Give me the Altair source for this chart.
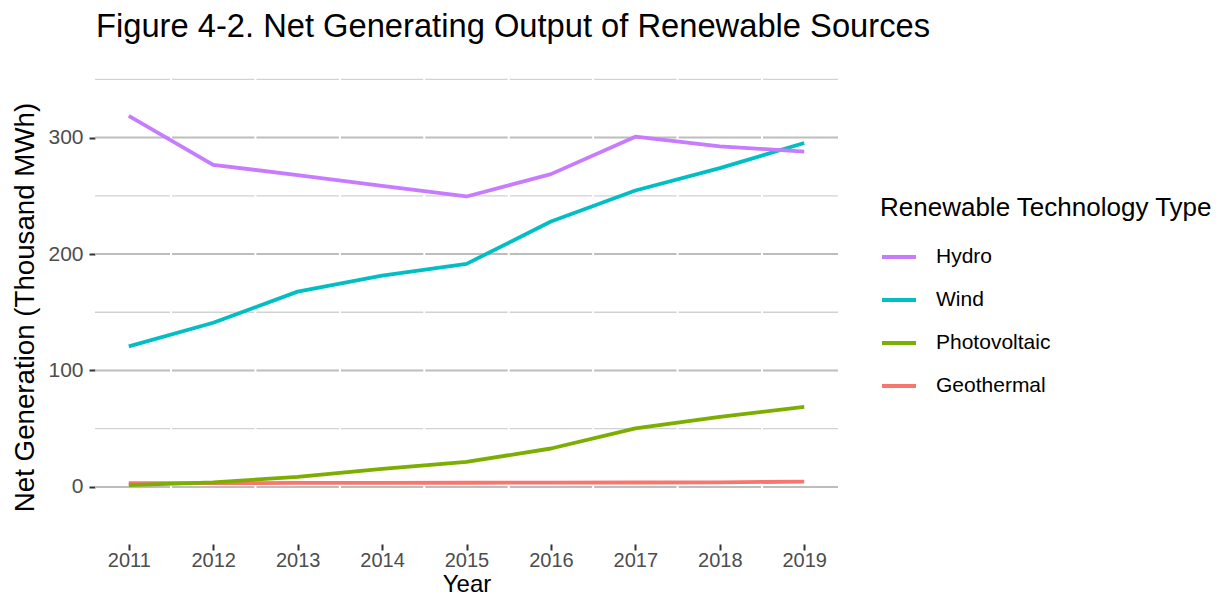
import altair as alt
import pandas as pd

# ---- data ----
years = [2011, 2012, 2013, 2014, 2015, 2016, 2017, 2018, 2019]
hydro = [318.7, 276.6, 267.8, 258.5, 249.4, 268.6, 300.7, 292.4, 288.0]
wind = [120.7, 141.0, 167.7, 181.5, 191.5, 227.9, 254.5, 273.8, 295.3]
photovoltaic = [1.5, 4.0, 8.6, 15.5, 21.5, 33.0, 50.2, 60.2, 68.8]
geothermal = [3.2, 3.3, 3.4, 3.5, 3.6, 3.7, 3.8, 4.0, 4.5]

legend_order = ["Hydro", "Wind", "Photovoltaic", "Geothermal"]
legend_colors = ["#C77CFF", "#00BFC4", "#7CAE00", "#F8766D"]
draw_order = ["Geothermal", "Photovoltaic", "Wind", "Hydro"]

major_y = [0, 100, 200, 300]
minor_y = [50, 150, 250, 350]
half_years = [2011.5, 2012.5, 2013.5, 2014.5, 2015.5, 2016.5, 2017.5, 2018.5]

FONT = "Liberation Sans"

series = {"Hydro": hydro, "Wind": wind, "Photovoltaic": photovoltaic, "Geothermal": geothermal}
rows = []
for k, name in enumerate(draw_order):
    for yr, v in zip(years, series[name]):
        rows.append({"Year": yr, "Value": v, "Type": name, "ord": k})
df = pd.DataFrame(rows)

xscale = alt.Scale(domain=[2010.6, 2019.4], nice=False, zero=False)
yscale = alt.Scale(domain=[-49, 358], nice=False, zero=False)

x_axis = alt.Axis(
    values=years,
    format="d",
    grid=False,
    domain=False,
    tickColor="#333333",
    tickSize=6,
    tickWidth=2,
    labelFont=FONT,
    labelFontSize=20,
    labelColor="#4D4D4D",
    labelPadding=0,
    titleFont=FONT,
    titleFontSize=24,
    titleFontWeight="normal",
    titleColor="black",
    titlePadding=2,
)
y_axis = alt.Axis(
    values=major_y,
    grid=False,
    domain=False,
    tickColor="#333333",
    tickSize=6,
    tickWidth=2,
    labelFont=FONT,
    labelFontSize=21,
    labelColor="#4D4D4D",
    labelPadding=6,
    titleFont=FONT,
    titleFontSize=27.7,
    titleFontWeight="normal",
    titleColor="black",
    titlePadding=8,
)
X_TITLE = "Year"
Y_TITLE = "Net Generation (Thousand MWh)"

major_df = pd.DataFrame({"y": major_y})
minor_df = pd.DataFrame({"y": minor_y})
vgap_df = pd.DataFrame({"x": half_years})

major_grid = alt.Chart(major_df).mark_rule(color="#BDBDBD", strokeWidth=2).encode(
    y=alt.Y("y:Q", scale=yscale, title=Y_TITLE, axis=y_axis)
)
minor_grid = alt.Chart(minor_df).mark_rule(color="#D2D2D2", strokeWidth=1.3).encode(
    y=alt.Y("y:Q", scale=yscale, title=Y_TITLE, axis=y_axis)
)
vgaps = alt.Chart(vgap_df).mark_rule(color="white", strokeWidth=2).encode(
    x=alt.X("x:Q", scale=xscale, title=X_TITLE, axis=x_axis)
)

lines = alt.Chart(df).mark_line(strokeWidth=3.8, strokeCap="butt", strokeJoin="round").encode(
    x=alt.X("Year:Q", scale=xscale, title=X_TITLE, axis=x_axis),
    y=alt.Y("Value:Q", scale=yscale, title=Y_TITLE, axis=y_axis),
    color=alt.Color(
        "Type:N",
        scale=alt.Scale(domain=legend_order, range=legend_colors),
        legend=alt.Legend(
            title="Renewable Technology Type",
            orient="none",
            legendX=785,
            legendY=125,
            symbolType="stroke",
            symbolSize=1156,
            symbolStrokeWidth=4,
            labelFont=FONT,
            labelFontSize=21,
            labelColor="black",
            labelOffset=18,
            labelLimit=0,
            titleFont=FONT,
            titleFontSize=26,
            titleFontWeight="normal",
            titleColor="black",
            titleLimit=0,
            titlePadding=17,
            rowPadding=14,
        ),
    ),
    order=alt.Order("ord:Q"),
    detail="Type:N",
)

chart = (
    alt.layer(minor_grid, major_grid, vgaps, lines)
    .properties(
        width=743,
        height=474,
        autosize=alt.AutoSizeParams(type="none"),
        padding={"left": 87, "top": 62, "right": 381, "bottom": 55},
        title=alt.TitleParams(
            "Figure 4-2. Net Generating Output of Renewable Sources",
            anchor="start",
            frame="group",
            font=FONT,
            fontSize=32.7,
            fontWeight="normal",
            color="black",
            offset=25,
            dx=1,
        ),
        background="white",
    )
    .configure_view(stroke=None)
)

chart.save("out.html", embed_options={"renderer": "svg", "actions": False})
